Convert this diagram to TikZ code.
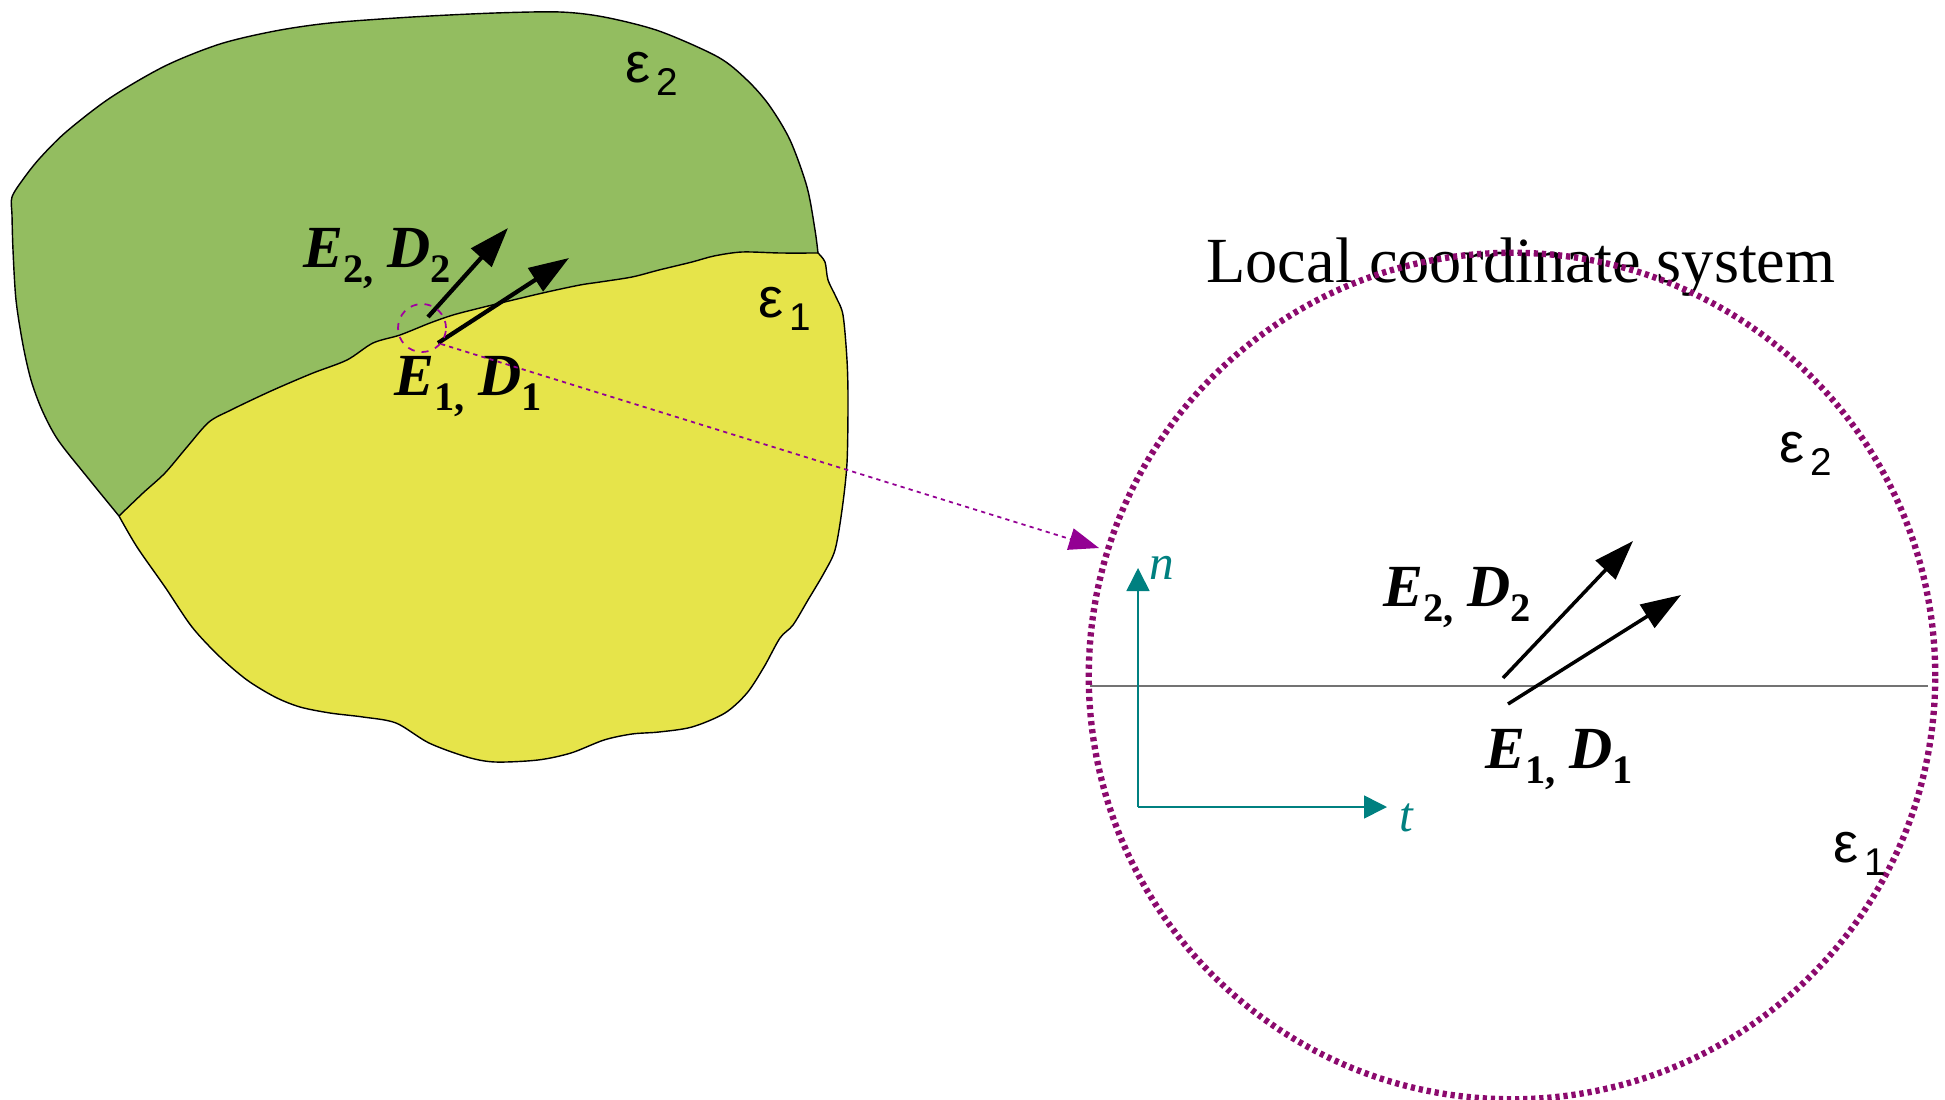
\documentclass[tikz,border=0pt]{standalone}
\usepackage{fontspec}
\setmainfont{Liberation Serif}
\newfontfamily\epsfont{Liberation Sans}
\usetikzlibrary{arrows.meta, positioning, calc}
\definecolor{regiongreen}{RGB}{147,189,96}
\definecolor{regionyellow}{RGB}{230,228,74}
\definecolor{circlepurple}{RGB}{140,10,110}
\definecolor{linkpurple}{RGB}{128,0,128}
\definecolor{axisteal}{RGB}{0,128,128}
\newcommand{\lowsub}[1]{\raisebox{-4.5pt}{\fontsize{11.5}{12}\selectfont\upshape #1}}
\newcommand{\epssub}[1]{\hspace{1.5pt}\raisebox{-3.8pt}{\fontsize{11}{12}\selectfont #1}}
\tikzset{
    region/.style={draw=black, line width=0.4pt, line join=round},
    fieldarrow/.style={line width=1.2pt, -{Triangle[length=4mm, width=2.7mm]}},
    fieldlabel/.style={anchor=base west, inner sep=0pt, font=\fontsize{17}{20}\selectfont\bfseries\itshape},
    epslabel/.style={anchor=base west, inner sep=0pt, font=\epsfont\fontsize{16}{18}\selectfont},
    axis/.style={draw=axisteal, line width=0.45pt, -{Triangle[length=2.3mm, width=2.3mm]}},
    axislabel/.style={inner sep=0pt, text=axisteal, font=\fontsize{14}{16}\selectfont\itshape},
    spotcircle/.style={circle, draw=linkpurple!75!magenta, line width=0.5pt, dash pattern=on 2pt off 2pt, minimum size=4.8mm, inner sep=0pt},
    zoomline/.style={draw=linkpurple!85!magenta, line width=0.5pt, dash pattern=on 1.2pt off 1.2pt, -{Triangle[length=3mm, width=2.2mm]}},
    loccircle/.style={circle, draw=circlepurple, line width=1.8pt, dash pattern=on 1.2pt off 1.1pt, minimum size=8.46cm, inner sep=0pt},
    iface/.style={draw=black!55, line width=0.55pt}
}

\begin{document}
\begin{tikzpicture}[x=0.01cm, y=-0.01cm]
        \useasboundingbox (0,0) rectangle (1945,1100);

        % Regions
        \coordinate (j1) at (119,516);
        \coordinate (j2) at (818,253);
        \fill[regiongreen] (j1)
            -- plot[smooth] coordinates {(119,516) (88,478) (58,440) (42,410) (31,380) (23,345) (16,300) (13,250) (12,215) (12,197) (24,178) (40,158) (66,132) (110,98) (165,66) (220,44) (275,31) (330,23) (412,17) (495,13) (560,12) (604,17) (659,31) (718,57) (747,80) (769,105) (790,140) (807,187) (815,230) (818,253)}
            -- plot[smooth] coordinates {(818,253) (780,253) (742,252) (714,256) (692,262) (659,270) (632,277) (600,282) (580,285) (547,292) (513,300) (480,308) (453,315) (430,323) (400,335) (373,343) (347,360) (313,373) (280,387) (258,397) (231,410) (209,422) (187,447) (165,473) (143,493) (119,516)}
            -- cycle;
        \fill[regionyellow] (j1)
            -- plot[smooth] coordinates {(119,516) (143,493) (165,473) (187,447) (209,422) (231,410) (258,397) (280,387) (313,373) (347,360) (373,343) (400,335) (430,323) (453,315) (480,308) (513,300) (547,292) (580,285) (600,282) (632,277) (659,270) (692,262) (714,256) (742,252) (780,253) (818,253)}
            -- plot[smooth] coordinates {(818,253) (825,262) (828,280) (836,297) (843,315) (847,360) (848,400) (847,463) (842,510) (835,550) (824,573) (808,600) (793,625) (780,638) (764,667) (747,693) (725,713) (692,727) (659,732) (632,734) (604,740) (571,753) (538,760) (495,762) (467,757) (429,743) (396,723) (363,717) (330,713) (300,707) (275,697) (247,680) (220,657) (192,627) (165,587) (137,547) (119,516)}
            -- cycle;
        \draw[region] (j1)
            -- plot[smooth] coordinates {(119,516) (88,478) (58,440) (42,410) (31,380) (23,345) (16,300) (13,250) (12,215) (12,197) (24,178) (40,158) (66,132) (110,98) (165,66) (220,44) (275,31) (330,23) (412,17) (495,13) (560,12) (604,17) (659,31) (718,57) (747,80) (769,105) (790,140) (807,187) (815,230) (818,253)}
            -- plot[smooth] coordinates {(818,253) (825,262) (828,280) (836,297) (843,315) (847,360) (848,400) (847,463) (842,510) (835,550) (824,573) (808,600) (793,625) (780,638) (764,667) (747,693) (725,713) (692,727) (659,732) (632,734) (604,740) (571,753) (538,760) (495,762) (467,757) (429,743) (396,723) (363,717) (330,713) (300,707) (275,697) (247,680) (220,657) (192,627) (165,587) (137,547) (119,516)};
        \draw[region] plot[smooth] coordinates {(119,516) (143,493) (165,473) (187,447) (209,422) (231,410) (258,397) (280,387) (313,373) (347,360) (373,343) (400,335) (430,323) (453,315) (480,308) (513,300) (547,292) (580,285) (600,282) (632,277) (659,270) (692,262) (714,256) (742,252) (780,253) (818,253)};

        % Fields at the interface
        \coordinate (l2s) at (428,317);
        \coordinate (l2e) at (508,228);
        \coordinate (l1s) at (438,343);
        \coordinate (l1e) at (569,258);
        \draw[fieldarrow] (l2s) -- (l2e);
        \draw[fieldarrow] (l1s) -- (l1e);
        \node (lab2) [fieldlabel] at (303,267) {E\lowsub{2,}\hspace{0.22em}D\lowsub{2}};
        \node (lab1) [fieldlabel] at (394,395) {E\lowsub{1,}\hspace{0.22em}D\lowsub{1}};
        \node (epsL2) [epslabel] at (625,82) {ε\epssub{2}};
        \node (epsL1) [epslabel] at (758,317) {ε\epssub{1}};

        % Zoom into the local system
        \node (spot) [spotcircle] at (422,328) {};
        \coordinate (arrive) at (1099,548);
        \draw[zoomline] (spot.-40) -- (arrive);

        % Local coordinate system
        \node (title) [anchor=base, inner sep=0pt, font=\fontsize{18.3}{22}\selectfont] at (1521,282) {Local coordinate system};
        \node (loc) [loccircle] at (1512,676) {};
        \coordinate (lineL) at (1090,686);
        \coordinate (lineR) at (1928,686);
        \draw[iface] (lineL) -- (lineR);

        % Axes
        \coordinate (origin) at (1138,807);
        \coordinate (ntip) at (1138,568);
        \coordinate (ttip) at (1387,807);
        \draw[axis] (origin) -- (ntip);
        \draw[axis] (origin) -- (ttip);
        \node (nlab) [axislabel] at (1162,568) {n};
        \node (tlab) [axislabel] at (1406,818) {t};

        % Fields in the local system
        \coordinate (r2s) at (1503,678);
        \coordinate (r2e) at (1633,541);
        \coordinate (r1s) at (1508,704);
        \coordinate (r1e) at (1681,595);
        \draw[fieldarrow, line width=1pt] (r2s) -- (r2e);
        \draw[fieldarrow, line width=1pt] (r1s) -- (r1e);
        \node (rlab2) [fieldlabel] at (1383,606) {E\lowsub{2,}\hspace{0.22em}D\lowsub{2}};
        \node (rlab1) [fieldlabel] at (1485,768) {E\lowsub{1,}\hspace{0.22em}D\lowsub{1}};
        \node (epsR2) [epslabel] at (1779,462) {ε\epssub{2}};
        \node (epsR1) [epslabel] at (1833,862) {ε\epssub{1}};
\end{tikzpicture}
\end{document}
